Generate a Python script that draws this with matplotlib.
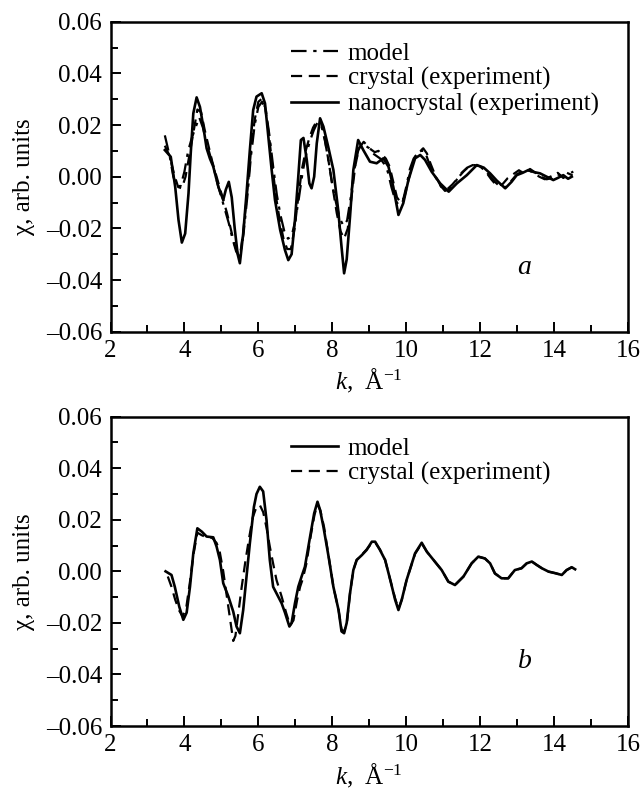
import numpy as np
import matplotlib
matplotlib.use("Agg")
import matplotlib.pyplot as plt
from matplotlib.ticker import MultipleLocator, FuncFormatter

plt.rcParams['font.family'] = ['Liberation Serif', 'DejaVu Serif']
plt.rcParams['mathtext.fontset'] = 'custom'
plt.rcParams['mathtext.rm'] = 'Liberation Serif'
plt.rcParams['mathtext.it'] = 'Liberation Serif:italic'

# ---- panel a: nanocrystal (experiment), solid
k_nano = [3.47, 3.63, 3.75, 3.84, 3.93, 4.02, 4.11, 4.17, 4.24, 4.33, 4.42, 4.51, 4.60, 4.69, 4.78,
          4.92, 5.05, 5.12, 5.20, 5.28, 5.36, 5.44, 5.50, 5.59, 5.68, 5.77, 5.86, 5.95, 6.09, 6.18,
          6.27, 6.36, 6.45, 6.59, 6.72, 6.81, 6.90, 6.99, 7.08, 7.15, 7.22, 7.31, 7.38, 7.44, 7.51,
          7.58, 7.67, 7.76, 7.89, 8.03, 8.16, 8.25, 8.32, 8.39, 8.48, 8.57, 8.70, 8.84, 9.02, 9.20,
          9.38, 9.52, 9.65, 9.79, 9.92, 10.06, 10.24, 10.38, 10.51, 10.69, 10.92, 11.15, 11.37, 11.64,
          11.91, 12.10, 12.27, 12.45, 12.68, 12.85, 12.99, 13.15, 13.31, 13.45, 13.62, 13.80, 13.98,
          14.10, 14.25, 14.38, 14.48]
chi_nano = [0.0103, 0.0077, -0.0039, -0.0168, -0.0255, -0.0220, -0.0065, 0.0090, 0.0245, 0.0307,
            0.0270, 0.0194, 0.0110, 0.0070, 0.0039, -0.0040, -0.0090, -0.0050, -0.0020, -0.0080,
            -0.0200, -0.0300, -0.0335, -0.0220, -0.0065, 0.0103, 0.0258, 0.0310, 0.0323, 0.0284,
            0.0155, 0.0026, -0.0090, -0.0206, -0.0284, -0.0323, -0.0300, -0.0168, 0.0000, 0.0142,
            0.0150, 0.0065, -0.0026, -0.0045, 0.0000, 0.0129, 0.0226, 0.0194, 0.0116, 0.0026,
            -0.0129, -0.0271, -0.0374, -0.0320, -0.0155, 0.0026, 0.0142, 0.0103, 0.0058, 0.0052,
            0.0071, 0.0039, -0.0039, -0.0148, -0.0103, -0.0013, 0.0071, 0.0084, 0.0065, 0.0019,
            -0.0026, -0.0058, -0.0026, 0.0006, 0.0045, 0.0035, 0.0013, -0.0015, -0.0045, -0.0020,
            0.0006, 0.0015, 0.0026, 0.0018, 0.0013, 0.0000, -0.0013, -0.0005, 0.0006, -0.0008, 0.0000]

# ---- panel a: crystal (experiment), dashed
k_cryst_a = [3.47, 3.60, 3.72, 3.83, 3.93, 4.03, 4.13, 4.23, 4.35, 4.45, 4.55, 4.65, 4.75, 4.85, 4.95,
             5.05, 5.15, 5.25, 5.35, 5.45, 5.52, 5.60, 5.70, 5.80, 5.90, 6.00, 6.08, 6.18, 6.28, 6.38,
             6.48, 6.58, 6.68, 6.78, 6.88, 6.98, 7.08, 7.18, 7.28, 7.38, 7.48, 7.58, 7.68, 7.78, 7.90,
             8.02, 8.12, 8.22, 8.32, 8.42, 8.52, 8.62, 8.72, 8.85, 8.95, 9.05, 9.15, 9.25, 9.35, 9.45,
             9.55, 9.65, 9.75, 9.85, 9.95, 10.05, 10.15, 10.25, 10.35, 10.46, 10.56, 10.66, 10.80,
             10.95, 11.10, 11.25, 11.40, 11.55, 11.70, 11.85, 12.00, 12.15, 12.30, 12.45, 12.60, 12.75,
             12.90, 13.05, 13.20, 13.35, 13.50, 13.65, 13.80, 13.95, 14.10, 14.25, 14.40, 14.52]
chi_cryst_a = [0.0120, 0.0080, 0.0010, -0.0040, -0.0045, 0.0000, 0.0080, 0.0160, 0.0260, 0.0250,
               0.0180, 0.0120, 0.0060, 0.0010, -0.0040, -0.0090, -0.0140, -0.0200, -0.0260, -0.0300,
               -0.0290, -0.0200, -0.0060, 0.0100, 0.0220, 0.0290, 0.0300, 0.0270, 0.0170, 0.0040,
               -0.0080, -0.0170, -0.0240, -0.0280, -0.0280, -0.0200, -0.0080, 0.0030, 0.0100, 0.0150,
               0.0190, 0.0215, 0.0220, 0.0160, 0.0060, -0.0050, -0.0140, -0.0210, -0.0240, -0.0200,
               -0.0080, 0.0040, 0.0110, 0.0135, 0.0120, 0.0105, 0.0095, 0.0100, 0.0085, 0.0070,
               0.0040, -0.0020, -0.0080, -0.0100, -0.0080, -0.0020, 0.0040, 0.0080, 0.0095, 0.0110,
               0.0090, 0.0050, 0.0000, -0.0040, -0.0050, -0.0030, -0.0005, 0.0020, 0.0040, 0.0045,
               0.0040, 0.0020, -0.0010, -0.0035, -0.0030, -0.0005, 0.0010, 0.0025, 0.0010, 0.0030,
               0.0015, 0.0000, -0.0010, -0.0005, 0.0015, -0.0005, 0.0010, 0.0020]

# ---- panel a: model, dash-dot
k_model_a = [3.47, 3.60, 3.70, 3.80, 3.90, 4.00, 4.10, 4.20, 4.30, 4.40, 4.50, 4.60, 4.70, 4.80, 4.90,
             5.00, 5.10, 5.20, 5.30, 5.40, 5.50, 5.60, 5.70, 5.80, 5.90, 6.00, 6.10, 6.20, 6.30, 6.40,
             6.50, 6.60, 6.70, 6.80, 6.90, 7.00, 7.10, 7.20, 7.30, 7.40, 7.50, 7.60, 7.70, 7.80, 7.90,
             8.00, 8.10, 8.20, 8.30, 8.40, 8.50, 8.60, 8.70, 8.80, 8.90, 9.00, 9.10, 9.20, 9.30, 9.40,
             9.50, 9.60, 9.70, 9.80, 9.90, 10.00, 10.10, 10.20, 10.30, 10.40, 10.50, 10.60, 10.75,
             10.90, 11.05, 11.20, 11.35, 11.50, 11.65, 11.80, 11.95, 12.10, 12.25, 12.40, 12.55, 12.70,
             12.85, 13.00, 13.15, 13.30, 13.45, 13.60, 13.75, 13.90, 14.05, 14.20, 14.35, 14.50]
chi_model_a = [0.0160, 0.0080, 0.0000, -0.0040, -0.0035, 0.0020, 0.0100, 0.0150, 0.0190, 0.0230,
               0.0190, 0.0130, 0.0080, 0.0030, -0.0030, -0.0080, -0.0130, -0.0180, -0.0240, -0.0290,
               -0.0310, -0.0220, -0.0080, 0.0080, 0.0200, 0.0270, 0.0290, 0.0260, 0.0160, 0.0040,
               -0.0070, -0.0150, -0.0210, -0.0240, -0.0230, -0.0170, -0.0080, 0.0020, 0.0090, 0.0140,
               0.0180, 0.0210, 0.0200, 0.0140, 0.0060, -0.0030, -0.0100, -0.0160, -0.0190, -0.0170,
               -0.0080, 0.0030, 0.0100, 0.0130, 0.0120, 0.0110, 0.0090, 0.0080, 0.0070, 0.0050,
               0.0020, -0.0040, -0.0090, -0.0110, -0.0100, -0.0040, 0.0030, 0.0070, 0.0090, 0.0100,
               0.0100, 0.0060, 0.0010, -0.0030, -0.0055, -0.0045, -0.0015, 0.0015, 0.0035, 0.0045,
               0.0045, 0.0030, 0.0005, -0.0020, -0.0040, -0.0040, -0.0015, 0.0010, 0.0020, 0.0025,
               0.0015, 0.0000, -0.0010, 0.0000, 0.0010, 0.0005, 0.0015, 0.0005]

# ---- panel b: model, solid
k_model_b = [3.49, 3.65, 3.74, 3.86, 3.97, 4.06, 4.15, 4.24, 4.35, 4.47, 4.60, 4.78, 4.87, 4.96, 5.05,
             5.19, 5.32, 5.41, 5.50, 5.59, 5.68, 5.77, 5.88, 5.95, 6.04, 6.13, 6.22, 6.31, 6.40, 6.49,
             6.63, 6.72, 6.84, 6.90, 6.99, 7.08, 7.17, 7.26, 7.40, 7.51, 7.60, 7.67, 7.76, 7.90, 8.03,
             8.17, 8.25, 8.32, 8.39, 8.48, 8.57, 8.66, 8.80, 8.93, 9.07, 9.16, 9.29, 9.43, 9.57, 9.70,
             9.79, 9.88, 10.01, 10.24, 10.42, 10.56, 10.74, 10.96, 11.14, 11.32, 11.55, 11.77, 11.95,
             12.13, 12.27, 12.40, 12.58, 12.76, 12.94, 13.12, 13.26, 13.40, 13.53, 13.67, 13.85, 14.03,
             14.21, 14.34, 14.48, 14.57]
chi_model_b = [0.0000, -0.0014, -0.0060, -0.0137, -0.0188, -0.0160, -0.0060, 0.0070, 0.0167, 0.0154,
               0.0135, 0.0132, 0.0096, 0.0044, -0.0046, -0.0098, -0.0156, -0.0214, -0.0240, -0.0150,
               -0.0020, 0.0109, 0.0250, 0.0300, 0.0328, 0.0310, 0.0200, 0.0044, -0.0060, -0.0085,
               -0.0124, -0.0160, -0.0214, -0.0200, -0.0124, -0.0060, -0.0020, 0.0018, 0.0135, 0.0225,
               0.0270, 0.0238, 0.0173, 0.0057, -0.0060, -0.0150, -0.0233, -0.0240, -0.0200, -0.0085,
               0.0005, 0.0044, 0.0063, 0.0083, 0.0115, 0.0115, 0.0083, 0.0044, -0.0034, -0.0110,
               -0.0150, -0.0110, -0.0034, 0.0070, 0.0111, 0.0076, 0.0044, 0.0005, -0.0040, -0.0053,
               -0.0020, 0.0031, 0.0057, 0.0050, 0.0031, -0.0008, -0.0027, -0.0027, 0.0005, 0.0012,
               0.0031, 0.0038, 0.0025, 0.0012, -0.0001, -0.0007, -0.0014, 0.0005, 0.0016, 0.0008]

# ---- panel b: crystal (experiment), dashed
k_cryst_b = [3.55, 3.65, 3.75, 3.85, 3.95, 4.05, 4.15, 4.25, 4.35, 4.47, 4.60, 4.75, 4.87, 4.95, 5.05,
             5.15, 5.25, 5.32, 5.38, 5.46, 5.55, 5.65, 5.75, 5.85, 5.95, 6.04, 6.13, 6.22, 6.31, 6.40,
             6.49, 6.63, 6.75, 6.86, 6.95, 7.05, 7.13, 7.20, 7.30, 7.42, 7.52, 7.60, 7.68, 7.78, 7.90,
             8.03, 8.17, 8.25, 8.32, 8.40, 8.48, 8.57, 8.66, 8.80, 8.93, 9.07, 9.16, 9.29, 9.43, 9.57,
             9.70, 9.79, 9.88, 10.01, 10.24, 10.42, 10.56, 10.74, 10.96, 11.14, 11.32, 11.55, 11.77,
             11.95, 12.13, 12.27, 12.40, 12.58, 12.76, 12.94, 13.12, 13.26, 13.40, 13.53, 13.67, 13.85,
             14.03, 14.21, 14.34, 14.48]
chi_cryst_b = [-0.0020, -0.0060, -0.0110, -0.0150, -0.0175, -0.0140, -0.0040, 0.0070, 0.0150, 0.0140,
               0.0132, 0.0130, 0.0110, 0.0080, 0.0000, -0.0100, -0.0200, -0.0270, -0.0250, -0.0160,
               -0.0060, 0.0040, 0.0130, 0.0210, 0.0250, 0.0257, 0.0230, 0.0170, 0.0096, 0.0030,
               -0.0033, -0.0098, -0.0160, -0.0210, -0.0190, -0.0110, -0.0060, -0.0030, 0.0030, 0.0140,
               0.0220, 0.0260, 0.0235, 0.0170, 0.0060, -0.0060, -0.0150, -0.0225, -0.0235, -0.0195,
               -0.0085, 0.0005, 0.0044, 0.0065, 0.0085, 0.0110, 0.0112, 0.0085, 0.0044, -0.0034,
               -0.0105, -0.0145, -0.0110, -0.0034, 0.0068, 0.0108, 0.0076, 0.0044, 0.0005, -0.0040,
               -0.0053, -0.0020, 0.0031, 0.0057, 0.0050, 0.0031, -0.0008, -0.0027, -0.0027, 0.0005,
               0.0012, 0.0031, 0.0038, 0.0025, 0.0012, -0.0001, -0.0007, -0.0014, 0.0005, 0.0016]

FS = 18
LW = 1.6
DASH = (0, (5, 3))
DASHDOT = (0, (7, 3, 1.5, 3))


def fmt(v, pos):
    if abs(v) < 1e-9:
        return "0.00"
    return f"{v:.2f}".replace("-", "\u2013")


def style_axes(ax):
    ax.set_xlim(2, 16)
    ax.set_ylim(-0.06, 0.06)
    ax.xaxis.set_major_locator(MultipleLocator(2))
    ax.xaxis.set_minor_locator(MultipleLocator(1))
    ax.yaxis.set_major_locator(MultipleLocator(0.02))
    ax.yaxis.set_minor_locator(MultipleLocator(0.01))
    ax.yaxis.set_major_formatter(FuncFormatter(fmt))
    ax.tick_params(which='both', direction='in', top=False, right=False,
                   labelsize=FS, width=1.4)
    ax.tick_params(which='major', length=7, pad=6)
    ax.tick_params(which='minor', length=5)
    for s in ax.spines.values():
        s.set_linewidth(1.8)
    ax.set_xlabel("$k$,  Å$^{\u22121}$", fontsize=FS)
    ax.set_ylabel("\u03c7, arb. units", fontsize=FS)
    ax.xaxis.set_label_coords(0.5, -0.115)
    ax.yaxis.set_label_coords(-0.145, 0.5)


fig = plt.figure(figsize=(6.44, 7.92), dpi=100)
ax1 = fig.add_axes([0.1716, 0.5812, 0.8035, 0.3914])
ax2 = fig.add_axes([0.1716, 0.0833, 0.8035, 0.3906])

ax1.plot(k_model_a, chi_model_a, color='black', lw=LW, ls=DASHDOT, label='model')
ax1.plot(k_cryst_a, chi_cryst_a, color='black', lw=LW, ls=DASH, label='crystal (experiment)')
ax1.plot(k_nano, chi_nano, color='black', lw=LW + 0.3, ls='-', label='nanocrystal (experiment)')

ax2.plot(k_model_b, chi_model_b, color='black', lw=LW + 0.3, ls='-', label='model')
ax2.plot(k_cryst_b, chi_cryst_b, color='black', lw=LW, ls=DASH, label='crystal (experiment)')

for ax, tag in [(ax1, 'a'), (ax2, 'b')]:
    style_axes(ax)
    ax.legend(loc='upper left', bbox_to_anchor=(0.34, 0.95), frameon=False,
              fontsize=FS, handlelength=1.85, handletextpad=0.4,
              labelspacing=0.1, borderaxespad=0.0, borderpad=0.2)
    ax.text(13.2, -0.035, tag, fontsize=20, style='italic', ha='center', va='center')

fig.savefig("out.png", dpi=100)
